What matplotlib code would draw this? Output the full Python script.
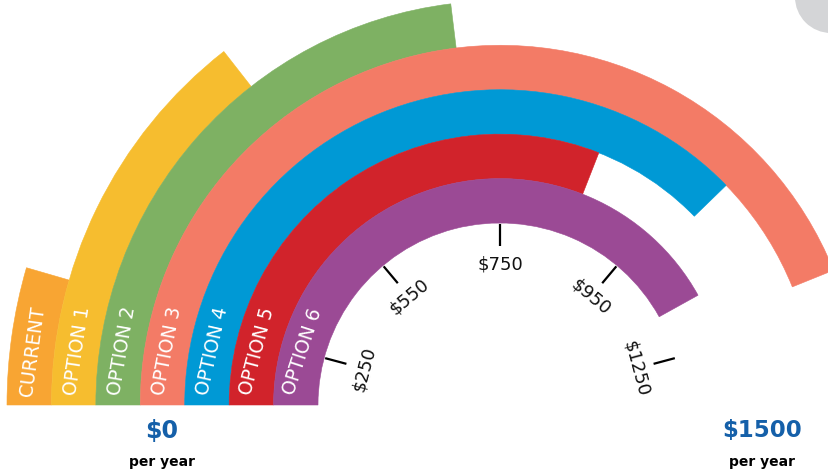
import numpy as np
import matplotlib
matplotlib.use("Agg")
import matplotlib.pyplot as plt
from matplotlib.patches import Circle

# options, outermost band first
names = ["CURRENT", "OPTION 1", "OPTION 2", "OPTION 3", "OPTION 4", "OPTION 5", "OPTION 6"]
values = [260, 560, 715, 1190, 1000, 857, 1130]
colors = ["#F8A533", "#F6BD2F", "#7EB163", "#F37B66", "#0099D5", "#D1232B", "#9B4A95"]

# gauge scale (not linear): dollar ticks and the angle where each sits
scale_vals = [0, 250, 550, 750, 950, 1250, 1500]
scale_degs = [180, 165, 130, 90, 50, 15, 0]
tick_vals = [250, 550, 750, 950, 1250]
tick_labels = ["$250", "$550", "$750", "$950", "$1250"]


def to_deg(v):
    return np.interp(v, scale_vals, scale_degs)


W, H = 829, 474
fig = plt.figure(figsize=(W / 100, H / 100), dpi=100)

# polar axes laid out so 1 radial unit = 1 pixel, centre at (500, 405) from top-left
cx, cy, R = 500, H - 405, 500
ax = fig.add_axes([(cx - R) / W, (cy - R) / H, 2 * R / W, 2 * R / H], projection="polar")
ax.set_ylim(0, R)
ax.axis("off")

r_in, band = 182, 44.43
n = len(names)
for i, (name, v, c) in enumerate(zip(names, values, colors)):
    bottom = r_in + (n - 1 - i) * band
    th = np.deg2rad(to_deg(v))
    ax.bar(th, band, width=np.pi - th, bottom=bottom, align="edge",
           color=c, edgecolor=c, linewidth=0.4)
    rm = bottom + band / 2
    pos = 180 - np.rad2deg(54 / rm)
    rot = 90 - np.rad2deg(64 / rm)
    ax.text(np.deg2rad(pos), rm, name, rotation=rot, rotation_mode="anchor",
            ha="center", va="center", color="white", fontsize=13.5,
            family="DejaVu Sans")

for v, lab in zip(tick_vals, tick_labels):
    d = to_deg(v)
    th = np.deg2rad(d)
    ax.plot([th, th], [159, 181], color="black", lw=1.6, solid_capstyle="butt")
    ax.text(th, 141, lab, rotation=d - 90, rotation_mode="anchor",
            ha="center", va="center", fontsize=13, color="#111111")

blue = "#1560A9"
fig.text(162 / W, 1 - 431 / H, "$0", ha="center", va="center",
         fontsize=17, fontweight="bold", color=blue)
fig.text(162 / W, 1 - 462 / H, "per year", ha="center", va="center",
         fontsize=10, fontweight="bold", color="black")
fig.text(762 / W, 1 - 431 / H, "$1500", ha="center", va="center",
         fontsize=16.5, fontweight="bold", color=blue)
fig.text(762 / W, 1 - 462 / H, "per year", ha="center", va="center",
         fontsize=10, fontweight="bold", color="black")

# grey decoration in the top-right corner (pixel coords, y down)
fig.add_artist(Circle((831, H + 3), 36, transform=None, color="#D4D5D7", lw=0))

fig.savefig("out.png", dpi=100)
